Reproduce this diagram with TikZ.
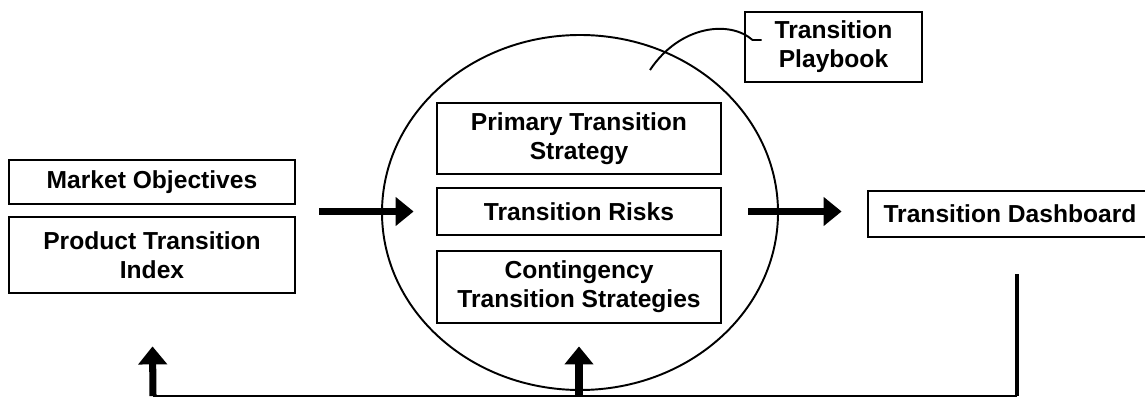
\documentclass[tikz,border=0pt]{standalone}
\usepackage{fontspec}
\setmainfont{Liberation Sans}
\usetikzlibrary{arrows.meta}

\begin{document}
\begin{tikzpicture}[
        >={Triangle[width=0.56cm, length=0.36cm]},
        box/.style={draw, line width=1.6pt, align=center, inner sep=0pt,
            font=\fontsize{14}{16.5}\selectfont\bfseries},
        flow/.style={->, line width=4pt},
    ]

        \useasboundingbox (0,0) rectangle (22.9,8);

        % Big circle and the three boxes inside it
        \draw[line width=1.1pt] (11.6,3.75) ellipse [x radius=3.96cm, y radius=3.55cm];
        \node[box, minimum width=5.68cm, minimum height=1.42cm] (pts) at (11.58,5.23)
            {Primary Transition\\Strategy};
        \node[box, minimum width=5.68cm, minimum height=0.94cm] (risks) at (11.58,3.77)
            {Transition Risks};
        \node[box, minimum width=5.68cm, minimum height=1.44cm] (cts) at (11.58,2.26)
            {Contingency\\Transition Strategies};

        % Playbook and its hook into the circle
        \node[box, minimum width=3.54cm, minimum height=1.4cm] (pb) at (16.67,7.06)
            {Transition\\Playbook};
        \coordinate (hook) at (13.0,6.6);
        \draw[line width=1.1pt] (hook)
            .. controls (13.6,7.5) and (14.6,7.6) .. (15.05,7.2)
            -- ([xshift=0.36cm, yshift=0.14cm]pb.west);

        % Inputs
        \node[box, minimum width=5.72cm, minimum height=0.88cm] (mo) at (3.04,4.36)
            {Market Objectives};
        \node[box, minimum width=5.72cm, minimum height=1.52cm] (pti) at (3.04,2.9)
            {Product Transition\\Index};

        % Output (runs off the right edge)
        \node[box, minimum width=5.68cm, minimum height=0.92cm] (dash) at (20.2,3.72)
            {Transition Dashboard};

        % Main flow
        \draw[flow, shorten <=0.46cm, shorten >=0.44cm] (mo.east |- risks.west) -- (risks.west);
        \draw[flow, shorten <=0.52cm, shorten >=0.5cm] (risks.east) -- (dash.west |- risks.east);

        % Feedback loop
        \coordinate (fbR) at (20.34,0.08);
        \coordinate (fbL) at (3.06,0.08);
        \draw[line width=2.8pt, shorten <=0.72cm] ([xshift=0.14cm]dash.south) -- (fbR);
        \draw[line width=1.2pt] (fbR) -- (fbL);
        \draw[flow, shorten >=1.04cm] (fbL) -- (pti.south);
        \draw[flow, shorten >=0.44cm] (fbL -| cts.south) -- (cts.south);

\end{tikzpicture}
\end{document}
